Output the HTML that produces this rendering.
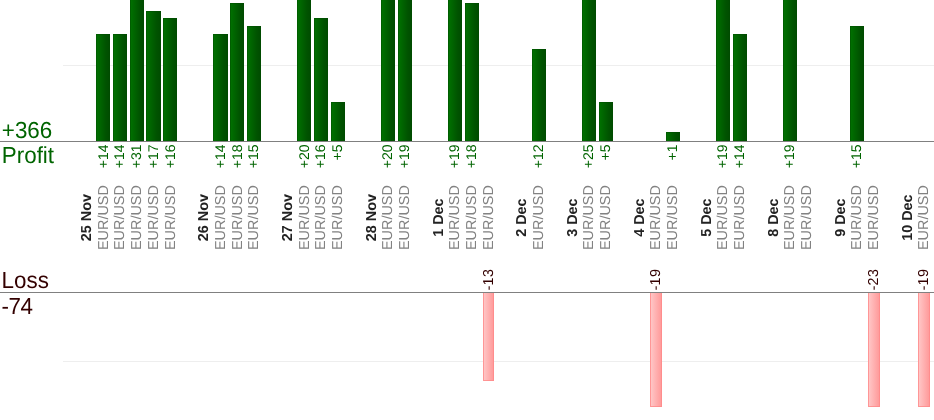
<!DOCTYPE html>
<html><head><meta charset="utf-8"><title>Profit / Loss</title>
<style>
html,body{margin:0;padding:0;background:#fff;}
body{width:934px;height:420px;overflow:hidden;position:relative;font-family:"Liberation Sans",Arial,sans-serif;}
svg{position:absolute;left:0;top:0;display:block;}
text{font-family:"Liberation Sans",Arial,sans-serif;text-rendering:geometricPrecision;}
.big{font-size:22.4px;}
.g{fill:#006400;}
.r{fill:#330000;}
.v{font-size:14px;}
.lv{font-size:14.4px;letter-spacing:0.3px;}
.p{font-size:14.4px;fill:#828282;}
.d{font-size:14.4px;font-weight:bold;fill:#222;}
</style></head><body>
<svg width="934" height="420" viewBox="0 0 934 420">
<defs>
<linearGradient id="gg" x1="0" y1="0" x2="1" y2="0"><stop offset="0" stop-color="#007300"/><stop offset="0.7" stop-color="#005300"/><stop offset="1" stop-color="#004b00"/></linearGradient>
<linearGradient id="rg" x1="0" y1="0" x2="1" y2="0"><stop offset="0" stop-color="#ffcaca"/><stop offset="1" stop-color="#ff9797"/></linearGradient>
</defs>

<rect x="63" y="65" width="871" height="1" fill="#eeeeee"/>
<rect x="63" y="361" width="871" height="1" fill="#eeeeee"/>
<g shape-rendering="crispEdges">
<rect x="96" y="34" width="14" height="107" fill="url(#gg)"/>
<path d="M96.5 141V34.5H109.5V141" fill="none" stroke="#004a00" stroke-opacity="0.5" stroke-width="1"/>
<rect x="113" y="34" width="14" height="107" fill="url(#gg)"/>
<path d="M113.5 141V34.5H126.5V141" fill="none" stroke="#004a00" stroke-opacity="0.5" stroke-width="1"/>
<rect x="130" y="-5" width="14" height="146" fill="url(#gg)"/>
<path d="M130.5 141V-4.5H143.5V141" fill="none" stroke="#004a00" stroke-opacity="0.5" stroke-width="1"/>
<rect x="146" y="11" width="15" height="130" fill="url(#gg)"/>
<path d="M146.5 141V11.5H160.5V141" fill="none" stroke="#004a00" stroke-opacity="0.5" stroke-width="1"/>
<rect x="163" y="18" width="14" height="123" fill="url(#gg)"/>
<path d="M163.5 141V18.5H176.5V141" fill="none" stroke="#004a00" stroke-opacity="0.5" stroke-width="1"/>
<rect x="213" y="34" width="15" height="107" fill="url(#gg)"/>
<path d="M213.5 141V34.5H227.5V141" fill="none" stroke="#004a00" stroke-opacity="0.5" stroke-width="1"/>
<rect x="230" y="3" width="14" height="138" fill="url(#gg)"/>
<path d="M230.5 141V3.5H243.5V141" fill="none" stroke="#004a00" stroke-opacity="0.5" stroke-width="1"/>
<rect x="247" y="26" width="14" height="115" fill="url(#gg)"/>
<path d="M247.5 141V26.5H260.5V141" fill="none" stroke="#004a00" stroke-opacity="0.5" stroke-width="1"/>
<rect x="297" y="-5" width="14" height="146" fill="url(#gg)"/>
<path d="M297.5 141V-4.5H310.5V141" fill="none" stroke="#004a00" stroke-opacity="0.5" stroke-width="1"/>
<rect x="314" y="18" width="14" height="123" fill="url(#gg)"/>
<path d="M314.5 141V18.5H327.5V141" fill="none" stroke="#004a00" stroke-opacity="0.5" stroke-width="1"/>
<rect x="331" y="102" width="14" height="39" fill="url(#gg)"/>
<path d="M331.5 141V102.5H344.5V141" fill="none" stroke="#004a00" stroke-opacity="0.5" stroke-width="1"/>
<rect x="381" y="-5" width="14" height="146" fill="url(#gg)"/>
<path d="M381.5 141V-4.5H394.5V141" fill="none" stroke="#004a00" stroke-opacity="0.5" stroke-width="1"/>
<rect x="398" y="-5" width="14" height="146" fill="url(#gg)"/>
<path d="M398.5 141V-4.5H411.5V141" fill="none" stroke="#004a00" stroke-opacity="0.5" stroke-width="1"/>
<rect x="448" y="-5" width="14" height="146" fill="url(#gg)"/>
<path d="M448.5 141V-4.5H461.5V141" fill="none" stroke="#004a00" stroke-opacity="0.5" stroke-width="1"/>
<rect x="465" y="3" width="14" height="138" fill="url(#gg)"/>
<path d="M465.5 141V3.5H478.5V141" fill="none" stroke="#004a00" stroke-opacity="0.5" stroke-width="1"/>
<rect x="532" y="49" width="14" height="92" fill="url(#gg)"/>
<path d="M532.5 141V49.5H545.5V141" fill="none" stroke="#004a00" stroke-opacity="0.5" stroke-width="1"/>
<rect x="582" y="-5" width="14" height="146" fill="url(#gg)"/>
<path d="M582.5 141V-4.5H595.5V141" fill="none" stroke="#004a00" stroke-opacity="0.5" stroke-width="1"/>
<rect x="599" y="102" width="14" height="39" fill="url(#gg)"/>
<path d="M599.5 141V102.5H612.5V141" fill="none" stroke="#004a00" stroke-opacity="0.5" stroke-width="1"/>
<rect x="666" y="132" width="14" height="9" fill="url(#gg)"/>
<path d="M666.5 141V132.5H679.5V141" fill="none" stroke="#004a00" stroke-opacity="0.5" stroke-width="1"/>
<rect x="716" y="-5" width="14" height="146" fill="url(#gg)"/>
<path d="M716.5 141V-4.5H729.5V141" fill="none" stroke="#004a00" stroke-opacity="0.5" stroke-width="1"/>
<rect x="733" y="34" width="14" height="107" fill="url(#gg)"/>
<path d="M733.5 141V34.5H746.5V141" fill="none" stroke="#004a00" stroke-opacity="0.5" stroke-width="1"/>
<rect x="783" y="-5" width="14" height="146" fill="url(#gg)"/>
<path d="M783.5 141V-4.5H796.5V141" fill="none" stroke="#004a00" stroke-opacity="0.5" stroke-width="1"/>
<rect x="850" y="26" width="14" height="115" fill="url(#gg)"/>
<path d="M850.5 141V26.5H863.5V141" fill="none" stroke="#004a00" stroke-opacity="0.5" stroke-width="1"/>
<rect x="483" y="293" width="11" height="88" fill="url(#rg)"/>
<path d="M483.5 293V380.5H493.5V293" fill="none" stroke="#ff8a8a" stroke-opacity="0.8" stroke-width="1"/>
<rect x="650" y="293" width="12" height="114" fill="url(#rg)"/>
<path d="M650.5 293V406.5H661.5V293" fill="none" stroke="#ff8a8a" stroke-opacity="0.8" stroke-width="1"/>
<rect x="868" y="293" width="12" height="114" fill="url(#rg)"/>
<path d="M868.5 293V406.5H879.5V293" fill="none" stroke="#ff8a8a" stroke-opacity="0.8" stroke-width="1"/>
<rect x="918" y="293" width="12" height="114" fill="url(#rg)"/>
<path d="M918.5 293V406.5H929.5V293" fill="none" stroke="#ff8a8a" stroke-opacity="0.8" stroke-width="1"/>
</g>
<rect x="0" y="141" width="934" height="1" fill="#808080"/>
<rect x="0" y="292" width="934" height="1" fill="#808080"/>
<text class="big g" transform="translate(1.8 138) scale(1 1.04)">+366</text>
<text class="big g" transform="translate(1.8 163) scale(1 1.04)">Profit</text>
<text class="big r" transform="translate(1.6 288) scale(1 1.04)">Loss</text>
<text class="big r" style="letter-spacing:-0.4px" transform="translate(1.5 314) scale(1 1.04)">-74</text>
<text class="p" text-anchor="middle" transform="translate(108.20 217.60) rotate(-90)">EUR/USD</text>
<text class="v g" text-anchor="end" transform="translate(108.20 144.50) rotate(-90)">+14</text>
<text class="p" text-anchor="middle" transform="translate(124.20 217.60) rotate(-90)">EUR/USD</text>
<text class="v g" text-anchor="end" transform="translate(124.20 144.50) rotate(-90)">+14</text>
<text class="p" text-anchor="middle" transform="translate(141.20 217.60) rotate(-90)">EUR/USD</text>
<text class="v g" text-anchor="end" transform="translate(141.20 144.50) rotate(-90)">+31</text>
<text class="p" text-anchor="middle" transform="translate(158.20 217.60) rotate(-90)">EUR/USD</text>
<text class="v g" text-anchor="end" transform="translate(158.20 144.50) rotate(-90)">+17</text>
<text class="p" text-anchor="middle" transform="translate(175.20 217.60) rotate(-90)">EUR/USD</text>
<text class="v g" text-anchor="end" transform="translate(175.20 144.50) rotate(-90)">+16</text>
<text class="p" text-anchor="middle" transform="translate(225.20 217.60) rotate(-90)">EUR/USD</text>
<text class="v g" text-anchor="end" transform="translate(225.20 144.50) rotate(-90)">+14</text>
<text class="p" text-anchor="middle" transform="translate(242.20 217.60) rotate(-90)">EUR/USD</text>
<text class="v g" text-anchor="end" transform="translate(242.20 144.50) rotate(-90)">+18</text>
<text class="p" text-anchor="middle" transform="translate(258.20 217.60) rotate(-90)">EUR/USD</text>
<text class="v g" text-anchor="end" transform="translate(258.20 144.50) rotate(-90)">+15</text>
<text class="p" text-anchor="middle" transform="translate(309.20 217.60) rotate(-90)">EUR/USD</text>
<text class="v g" text-anchor="end" transform="translate(309.20 144.50) rotate(-90)">+20</text>
<text class="p" text-anchor="middle" transform="translate(325.20 217.60) rotate(-90)">EUR/USD</text>
<text class="v g" text-anchor="end" transform="translate(325.20 144.50) rotate(-90)">+16</text>
<text class="p" text-anchor="middle" transform="translate(342.20 217.60) rotate(-90)">EUR/USD</text>
<text class="v g" text-anchor="end" transform="translate(342.20 144.50) rotate(-90)">+5</text>
<text class="p" text-anchor="middle" transform="translate(392.20 217.60) rotate(-90)">EUR/USD</text>
<text class="v g" text-anchor="end" transform="translate(392.20 144.50) rotate(-90)">+20</text>
<text class="p" text-anchor="middle" transform="translate(409.20 217.60) rotate(-90)">EUR/USD</text>
<text class="v g" text-anchor="end" transform="translate(409.20 144.50) rotate(-90)">+19</text>
<text class="p" text-anchor="middle" transform="translate(459.20 217.60) rotate(-90)">EUR/USD</text>
<text class="v g" text-anchor="end" transform="translate(459.20 144.50) rotate(-90)">+19</text>
<text class="p" text-anchor="middle" transform="translate(476.20 217.60) rotate(-90)">EUR/USD</text>
<text class="v g" text-anchor="end" transform="translate(476.20 144.50) rotate(-90)">+18</text>
<text class="p" text-anchor="middle" transform="translate(493.20 217.60) rotate(-90)">EUR/USD</text>
<text class="lv r" text-anchor="start" transform="translate(492.70 290.50) rotate(-90)">-13</text>
<text class="p" text-anchor="middle" transform="translate(543.20 217.60) rotate(-90)">EUR/USD</text>
<text class="v g" text-anchor="end" transform="translate(543.20 144.50) rotate(-90)">+12</text>
<text class="p" text-anchor="middle" transform="translate(593.20 217.60) rotate(-90)">EUR/USD</text>
<text class="v g" text-anchor="end" transform="translate(593.20 144.50) rotate(-90)">+25</text>
<text class="p" text-anchor="middle" transform="translate(610.20 217.60) rotate(-90)">EUR/USD</text>
<text class="v g" text-anchor="end" transform="translate(610.20 144.50) rotate(-90)">+5</text>
<text class="p" text-anchor="middle" transform="translate(660.20 217.60) rotate(-90)">EUR/USD</text>
<text class="lv r" text-anchor="start" transform="translate(659.70 290.50) rotate(-90)">-19</text>
<text class="p" text-anchor="middle" transform="translate(677.20 217.60) rotate(-90)">EUR/USD</text>
<text class="v g" text-anchor="end" transform="translate(677.20 144.50) rotate(-90)">+1</text>
<text class="p" text-anchor="middle" transform="translate(727.20 217.60) rotate(-90)">EUR/USD</text>
<text class="v g" text-anchor="end" transform="translate(727.20 144.50) rotate(-90)">+19</text>
<text class="p" text-anchor="middle" transform="translate(744.20 217.60) rotate(-90)">EUR/USD</text>
<text class="v g" text-anchor="end" transform="translate(744.20 144.50) rotate(-90)">+14</text>
<text class="p" text-anchor="middle" transform="translate(794.20 217.60) rotate(-90)">EUR/USD</text>
<text class="v g" text-anchor="end" transform="translate(794.20 144.50) rotate(-90)">+19</text>
<text class="p" text-anchor="middle" transform="translate(811.20 217.60) rotate(-90)">EUR/USD</text>
<text class="p" text-anchor="middle" transform="translate(861.20 217.60) rotate(-90)">EUR/USD</text>
<text class="v g" text-anchor="end" transform="translate(861.20 144.50) rotate(-90)">+15</text>
<text class="p" text-anchor="middle" transform="translate(878.20 217.60) rotate(-90)">EUR/USD</text>
<text class="lv r" text-anchor="start" transform="translate(877.70 290.50) rotate(-90)">-23</text>
<text class="p" text-anchor="middle" transform="translate(928.20 217.60) rotate(-90)">EUR/USD</text>
<text class="lv r" text-anchor="start" transform="translate(927.70 290.50) rotate(-90)">-19</text>
<text class="d" text-anchor="middle" transform="translate(90.90 217.60) rotate(-90)">25 Nov</text>
<text class="d" text-anchor="middle" transform="translate(207.90 217.60) rotate(-90)">26 Nov</text>
<text class="d" text-anchor="middle" transform="translate(291.90 217.60) rotate(-90)">27 Nov</text>
<text class="d" text-anchor="middle" transform="translate(375.90 217.60) rotate(-90)">28 Nov</text>
<text class="d" text-anchor="middle" transform="translate(442.90 217.60) rotate(-90)">1 Dec</text>
<text class="d" text-anchor="middle" transform="translate(525.90 217.60) rotate(-90)">2 Dec</text>
<text class="d" text-anchor="middle" transform="translate(576.90 217.60) rotate(-90)">3 Dec</text>
<text class="d" text-anchor="middle" transform="translate(643.90 217.60) rotate(-90)">4 Dec</text>
<text class="d" text-anchor="middle" transform="translate(710.90 217.60) rotate(-90)">5 Dec</text>
<text class="d" text-anchor="middle" transform="translate(777.90 217.60) rotate(-90)">8 Dec</text>
<text class="d" text-anchor="middle" transform="translate(844.90 217.60) rotate(-90)">9 Dec</text>
<text class="d" text-anchor="middle" transform="translate(911.90 217.60) rotate(-90)">10 Dec</text>
</svg></body></html>
